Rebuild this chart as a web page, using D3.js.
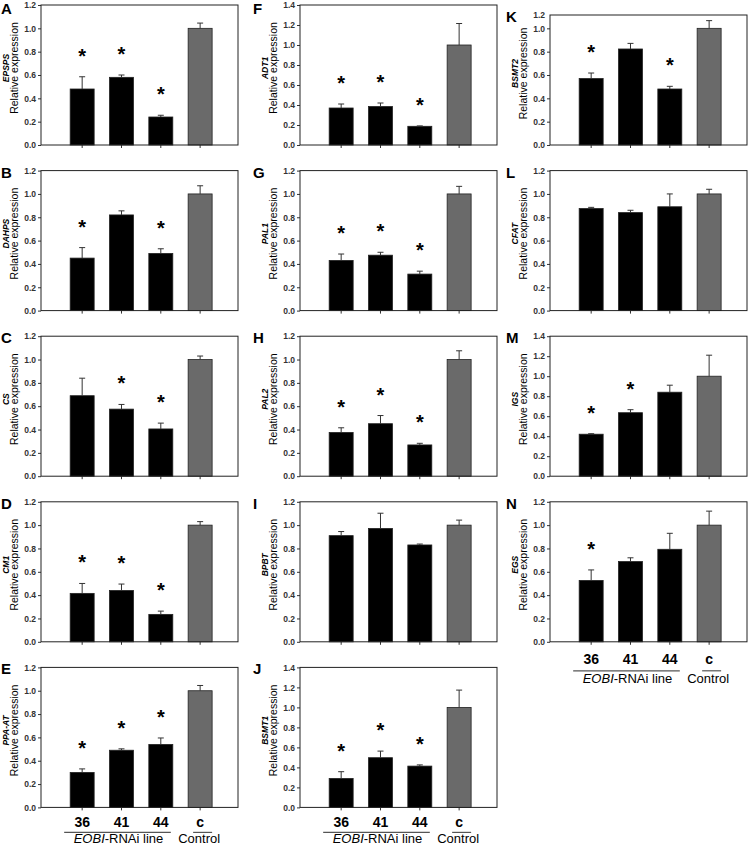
<!DOCTYPE html>
<html>
<head>
<meta charset="utf-8">
<script src="https://cdn.jsdelivr.net/npm/d3@7"></script>
<style>
  body { margin: 0; background: #fff; }
  text { font-family: "Liberation Sans", Arial, sans-serif; }
</style>
</head>
<body>
<div id="grafico"></div>
<script>
// datos
const lines = ["36", "41", "44", "c"];
const panelLetters = ["A", "B", "C", "D", "E", "F", "G", "H", "I", "J", "K", "L", "M", "N"];
const genes = ["EPSPS", "DAHPS", "CS", "CM1", "PPA-AT", "ADT1", "PAL1", "PAL2", "BPBT", "BSMT1", "BSMT2", "CFAT", "IGS", "EGS"];
const yMaxes = [1.2, 1.2, 1.2, 1.2, 1.2, 1.4, 1.2, 1.2, 1.2, 1.4, 1.2, 1.2, 1.4, 1.2];
const means = [
  [0.48, 0.58, 0.24, 1.0],
  [0.45, 0.82, 0.49, 1.0],
  [0.69, 0.575, 0.405, 1.0],
  [0.415, 0.44, 0.235, 1.0],
  [0.30, 0.49, 0.54, 1.0],
  [0.37, 0.385, 0.187, 1.0],
  [0.43, 0.475, 0.313, 1.0],
  [0.375, 0.45, 0.268, 1.0],
  [0.91, 0.972, 0.83, 1.0],
  [0.29, 0.497, 0.413, 1.0],
  [0.57, 0.823, 0.48, 1.0],
  [0.875, 0.84, 0.89, 1.0],
  [0.42, 0.635, 0.84, 1.0],
  [0.526, 0.688, 0.793, 1.0]
];
const errs = [
  [0.105, 0.02, 0.015, 0.045],
  [0.09, 0.035, 0.04, 0.07],
  [0.15, 0.04, 0.05, 0.03],
  [0.085, 0.055, 0.028, 0.03],
  [0.03, 0.012, 0.055, 0.045],
  [0.04, 0.035, 0.004, 0.215],
  [0.055, 0.025, 0.025, 0.065],
  [0.04, 0.07, 0.014, 0.075],
  [0.035, 0.13, 0.008, 0.043],
  [0.067, 0.066, 0.012, 0.173],
  [0.047, 0.048, 0.023, 0.066],
  [0.01, 0.02, 0.11, 0.04],
  [0.005, 0.03, 0.07, 0.21],
  [0.09, 0.032, 0.137, 0.12]
];
const significant = [
  [1, 1, 1, 0], [1, 0, 1, 0], [0, 1, 1, 0], [1, 1, 1, 0], [1, 1, 1, 0],
  [1, 1, 1, 0], [1, 1, 1, 0], [1, 1, 1, 0], [0, 0, 0, 0], [1, 1, 1, 0],
  [1, 0, 1, 0], [0, 0, 0, 0], [1, 1, 0, 0], [1, 0, 0, 0]
];

const width = 751;
const height = 848;

// disposicion de columnas y filas
const colLeft = [41, 300, 550];
const colRight = [238, 497, 747];
const letterX = [1, 253, 506];
const rowTop = r => 5 + 165.6 * r;
const plotH = 140;

const svg = d3.select("#grafico")
  .append("svg")
  .attr("width", width)
  .attr("height", height);

panelLetters.forEach((letra, p) => {
  const col = p < 5 ? 0 : (p < 10 ? 1 : 2);
  const row = p - col * 5;
  const left = colLeft[col], right = colRight[col];
  const bottom = rowTop(row) + plotH;
  // el panel K esta recortado arriba en la figura original
  const frameTop = p === 10 ? rowTop(row) + 10 : rowTop(row);

  const g = svg.append("g").attr("class", "panel");

  const x = d3.scaleBand()
    .domain(lines)
    .range([left, right])
    .paddingInner(0.39)
    .paddingOuter(0.7)
    .align(0.53);

  const y = d3.scaleLinear()
    .domain([0, yMaxes[p]])
    .range([bottom, bottom - plotH]);

  // eje y
  const ticks = d3.range(0, yMaxes[p] + 0.001, 0.2).filter(v => y(v) >= frameTop - 0.5);
  const ejeY = g.append("g")
    .attr("transform", `translate(${left},0)`)
    .call(d3.axisLeft(y).tickValues(ticks).tickFormat(d3.format(".1f")).tickSize(3).tickPadding(2));
  ejeY.select(".domain").remove();
  ejeY.selectAll("line").attr("stroke", "#333");
  ejeY.selectAll("text")
    .style("font-size", "8.5px")
    .style("font-weight", "bold")
    .attr("fill", "#333");
  if (p === 10) {
    g.append("text")
      .attr("x", left - 5).attr("y", frameTop + 3)
      .attr("text-anchor", "end")
      .style("font-size", "8.5px").style("font-weight", "bold")
      .attr("fill", "#333")
      .text(d3.format(".1f")(yMaxes[p]));
  }

  // eje x (solo marcas)
  const ejeX = g.append("g")
    .attr("transform", `translate(0,${bottom})`)
    .call(d3.axisBottom(x).tickSize(3).tickFormat(""));
  ejeX.select(".domain").remove();
  ejeX.selectAll("line").attr("stroke", "#333");

  // barras
  const datos = lines.map((l, i) => ({ linea: l, v: means[p][i], e: errs[p][i], s: significant[p][i] }));

  g.selectAll(".bar")
    .data(datos)
    .join("rect")
    .attr("class", "bar")
    .attr("x", d => x(d.linea))
    .attr("width", x.bandwidth())
    .attr("y", d => y(d.v))
    .attr("height", d => bottom - y(d.v))
    .attr("fill", d => d.linea === "c" ? "#6a6a6a" : "#000")
    .attr("stroke", "#222")
    .attr("stroke-width", 0.8);

  // barras de error (solo hacia arriba)
  const cx = d => x(d.linea) + x.bandwidth() / 2;
  g.selectAll(".err")
    .data(datos)
    .join("line")
    .attr("class", "err")
    .attr("x1", cx).attr("x2", cx)
    .attr("y1", d => y(d.v)).attr("y2", d => y(d.v + d.e))
    .attr("stroke", "#333").attr("stroke-width", 1);
  g.selectAll(".cap")
    .data(datos)
    .join("line")
    .attr("class", "cap")
    .attr("x1", d => cx(d) - 3).attr("x2", d => cx(d) + 3)
    .attr("y1", d => y(d.v + d.e)).attr("y2", d => y(d.v + d.e))
    .attr("stroke", "#333").attr("stroke-width", 1);

  // asteriscos
  g.selectAll(".star")
    .data(datos.filter(d => d.s))
    .join("text")
    .attr("class", "star")
    .attr("x", cx)
    .attr("y", d => y(d.v + d.e) - 25 + 11)
    .attr("text-anchor", "middle")
    .style("font-size", "20px")
    .style("font-weight", "bold")
    .text("*");

  // marco
  g.append("rect")
    .attr("x", left).attr("y", frameTop)
    .attr("width", right - left).attr("height", bottom - frameTop)
    .attr("fill", "none")
    .attr("stroke", "#222")
    .attr("stroke-width", 1);

  // titulo eje y
  const midY = frameTop + (bottom - frameTop) * 0.45;
  g.append("text")
    .attr("transform", `translate(${left - 23},${midY}) rotate(-90)`)
    .attr("text-anchor", "middle")
    .style("font-size", "10.5px")
    .text("Relative expression");
  g.append("text")
    .attr("transform", `translate(${left - 32},${midY}) rotate(-90)`)
    .attr("text-anchor", "middle")
    .style("font-size", "8.5px")
    .style("font-weight", "bold")
    .style("font-style", "italic")
    .text(genes[p]);

  // letra del panel
  g.append("text")
    .attr("x", letterX[col]).attr("y", Math.max(frameTop + 7, 14))
    .style("font-size", "15px")
    .style("font-weight", "bold")
    .text(letra);

  // etiquetas inferiores
  if (row === (col === 2 ? 3 : 4)) {
    const off = col === 2 ? [22, 29, 41] : [20, 25, 36];
    g.selectAll(".num")
      .data(lines)
      .join("text")
      .attr("class", "num")
      .attr("x", d => x(d) + x.bandwidth() / 2)
      .attr("y", bottom + off[0])
      .attr("text-anchor", "middle")
      .style("font-size", "14px")
      .style("font-weight", "bold")
      .text(d => d);
    const c36 = x("36") + x.bandwidth() / 2;
    const c44 = x("44") + x.bandwidth() / 2;
    const cc = x("c") + x.bandwidth() / 2;
    g.append("line")
      .attr("x1", c36 - 18).attr("x2", c44 + 10)
      .attr("y1", bottom + off[1]).attr("y2", bottom + off[1])
      .attr("stroke", "#555").attr("stroke-width", 1.2);
    g.append("line")
      .attr("x1", cc - 7).attr("x2", cc + 12)
      .attr("y1", bottom + off[1]).attr("y2", bottom + off[1])
      .attr("stroke", "#555").attr("stroke-width", 1.2);
    const t = g.append("text")
      .attr("x", (c36 + c44) / 2 - 3)
      .attr("y", bottom + off[2])
      .attr("text-anchor", "middle")
      .style("font-size", "13px");
    t.append("tspan").style("font-style", "italic").text("EOBI");
    t.append("tspan").text("-RNAi line");
    g.append("text")
      .attr("x", cc - 1)
      .attr("y", bottom + off[2])
      .attr("text-anchor", "middle")
      .style("font-size", "13px")
      .text("Control");
  }
});
</script>
</body>
</html>
